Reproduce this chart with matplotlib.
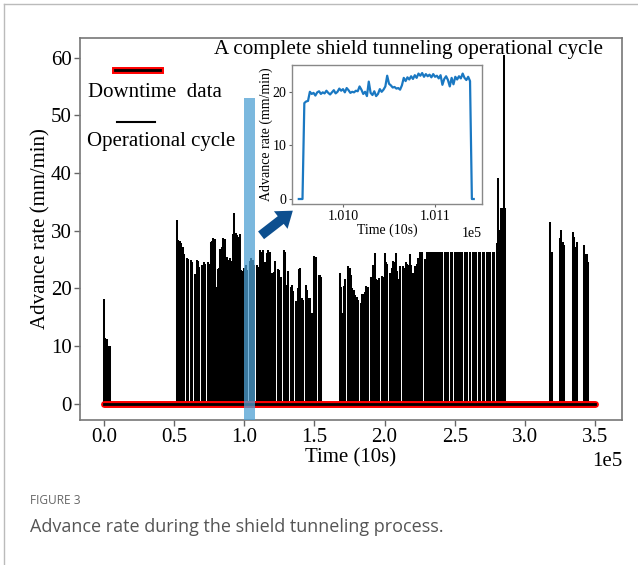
import numpy as np
import matplotlib.pyplot as plt
from matplotlib.patches import FancyArrowPatch
from matplotlib.lines import Line2D

plt.rcParams['font.family'] = ['Liberation Serif', 'DejaVu Serif']

# Advance rate per cycle (mm/min); time unit is 10 s, peaks sampled every 1000 units
step = 1000
start_b1, rate_b1 = 0, [18.1, 11.4, 11.2, 10.0, 10.0]
start_b2, rate_b2 = 52000, [
    31.8, 28.4, 28.2, 27.8, 27.2, 26.0, 0, 25.3, 25.1, 0,
    24.9, 24.6, 0, 22.5, 24.9, 24.7, 23.8, 0, 24.0, 24.5,
    24.3, 0, 24.6, 24.2, 28.0, 28.2, 28.7, 28.5, 20.3, 23.4,
    23.6, 26.9, 27.2, 28.7, 28.6, 0, 25.5, 25.0, 25.3, 24.8,
    29.5, 33.0, 29.6, 29.2, 29.0, 29.5, 23.2, 23.0, 23.5, 24.0,
    23.2, 0, 24.8, 25.3, 25.0, 24.0, 0, 24.0, 23.8, 26.6,
    26.4, 26.6, 0, 24.6, 26.1, 26.6, 26.3, 0, 22.6, 22.8,
    24.7, 0, 23.4, 23.2, 22.0, 0, 26.6, 26.3, 20.6, 23.0,
    0, 20.3, 20.6, 19.5, 0, 17.8, 20.0, 23.4, 23.5, 18.3,
    18.0, 0, 20.6, 19.7, 18.3, 18.3, 15.7, 0, 25.6, 25.5,
    0, 22.3, 22.3, 22.0]
start_b3, rate_b3 = 168000, [
    22.6, 20.3, 15.8, 20.5, 21.7, 0, 23.9, 23.5, 22.3, 20.0,
    19.7, 18.9, 18.5, 18.0, 0, 17.5, 19.1, 19.0, 19.3, 20.5,
    20.3, 0, 21.9, 21.6, 24.0, 26.2, 21.7, 21.5, 21.8, 0,
    22.2, 22.0, 26.2, 24.5, 24.3, 0, 22.7, 23.5, 24.7, 24.5,
    26.2, 23.0, 21.7, 23.9, 0, 23.9, 23.6, 24.5, 24.3, 24.0,
    25.9, 24.0, 22.7, 0, 23.9, 24.2, 25.3, 26.3, 26.3, 26.3,
    0, 25.1, 26.3, 26.3, 26.3, 0, 26.3, 26.3, 26.3, 26.3,
    0, 26.3, 26.3, 26.3, 0, 26.3, 26.3, 26.3, 0, 26.3,
    26.3, 0, 26.3, 26.3, 26.3, 0, 26.3, 26.3, 0, 26.3,
    26.3, 26.3, 0, 26.3, 0, 26.3, 26.3, 26.3, 0, 26.3,
    26.3, 0, 26.3, 26.3, 0, 26.3, 26.3, 26.3, 0, 26.3,
    26.3]
start_b4, rate_b4 = 280000, [27.8, 39.1, 30.1, 33.9, 33.9, 60.5, 34.0]
start_b5, rate_b5 = 318000, [31.5, 26.4]
start_b6, rate_b6 = 325000, [28.7, 30.1, 28.1, 27.5]
start_b7, rate_b7 = 334000, [29.7, 29.0, 27.2, 28.1]
start_b8, rate_b8 = 342000, [27.5, 26.0, 26.0, 24.6]

downtime_span = [0, 350000]
highlight_span = [100000, 107600]
highlight_top = 53

# one complete cycle, sampled every 2 units
inset_start, inset_step = 100952, 2
inset_rate = [
    0, 0, 0, 17.9, 18.2, 18.3, 20.0, 19.6, 19.8, 19.3,
    19.9, 20.1, 19.6, 19.9, 19.7, 20.2, 19.8, 19.5, 19.9, 20.3,
    19.7, 20.0, 20.6, 20.2, 20.5, 19.9, 20.7, 20.3, 19.8, 20.0,
    19.9, 20.2, 20.1, 21.0, 20.4, 19.6, 20.0, 19.2, 21.9, 19.8,
    19.4, 20.1, 19.2, 19.6, 20.5, 20.0, 20.4, 21.0, 23.0, 21.5,
    21.2, 20.8, 20.9, 20.6, 20.7, 20.4, 21.2, 22.6, 22.0, 22.7,
    22.3, 22.9, 22.4, 23.1, 22.6, 23.4, 23.0, 23.5, 22.8, 23.3,
    22.9, 23.2, 22.7, 23.3, 22.8, 23.0, 22.5, 23.1, 21.3, 22.4,
    22.9, 22.2, 21.0, 22.6, 21.4, 22.8, 22.3, 22.9, 22.5, 23.4,
    22.6, 22.2, 22.8, 22.0, 0, 0]

blocks = [(start_b1, rate_b1), (start_b2, rate_b2), (start_b3, rate_b3),
          (start_b4, rate_b4), (start_b5, rate_b5), (start_b6, rate_b6),
          (start_b7, rate_b7), (start_b8, rate_b8)]

fig = plt.figure(figsize=(6.38, 5.65), dpi=100)
ax = fig.add_axes([80 / 638, 1 - 420 / 565, 542 / 638, 382 / 565])

for start, rate in blocks:
    rate = np.array(rate)
    t = start + step * np.arange(len(rate))
    ax.vlines(t, 0, rate, colors='black', lw=1.45, zorder=2)

ax.plot(downtime_span, [0, 0], color='red', lw=5, solid_capstyle='round', zorder=3)
ax.plot(downtime_span, [0, 0], color='black', lw=2, zorder=4)

ax.set_xlim(-17100, 369200)
ax.set_ylim(-2.8, 63.4)
y0, y1 = ax.get_ylim()
ax.axvspan(*highlight_span, ymin=0, ymax=(highlight_top - y0) / (y1 - y0),
           color=(0.31, 0.63, 0.83), alpha=0.75, lw=0, zorder=5)

ax.set_xticks(np.arange(0, 350001, 50000))
ax.set_yticks([0, 10, 20, 30, 40, 50, 60])
ax.ticklabel_format(axis='x', style='sci', scilimits=(0, 0))
ax.xaxis.get_offset_text().set_fontsize(15)
ax.tick_params(direction='out', length=4, width=1, color='#666666',
               labelsize=15, pad=2)
for s in ax.spines.values():
    s.set_color('#777777')
    s.set_linewidth(1.2)
ax.set_xlabel('Time (10s)', fontsize=15, labelpad=1)
ax.set_ylabel('Advance rate (mm/min)', fontsize=15, labelpad=0.5)

# legend drawn by hand: handle above label
ax.plot([0.0646, 0.1476], [0.916, 0.916], transform=ax.transAxes,
        color='red', lw=5, zorder=6)
ax.plot([0.0646, 0.1476], [0.916, 0.916], transform=ax.transAxes,
        color='black', lw=2, zorder=7)
ax.text(0.0148, 0.8586, 'Downtime  data', transform=ax.transAxes,
        fontsize=15, va='center', ha='left')
ax.plot([0.0683, 0.1384], [0.780, 0.780], transform=ax.transAxes,
        color='black', lw=1.5, zorder=6)
ax.text(0.0130, 0.730, 'Operational cycle', transform=ax.transAxes,
        fontsize=15, va='center', ha='left')

ax.text(0.247, 0.9686, 'A complete shield tunneling operational cycle',
        transform=ax.transAxes, fontsize=15.2, va='center', ha='left')

arrow = FancyArrowPatch((0.330, 0.479), (0.3967, 0.5524), transform=ax.transAxes,
                        arrowstyle='simple,head_length=11,head_width=16,tail_width=7',
                        mutation_scale=1, color='#0d4f8f', lw=0, zorder=8)
ax.add_patch(arrow)

# inset with the single cycle
ax_in = fig.add_axes([292 / 638, 1 - 204 / 565, 190 / 638, 139 / 565])
t_in = inset_start + inset_step * np.arange(len(inset_rate))
ax_in.plot(t_in, inset_rate, color='#1a78c2', lw=1.6)
ax_in.set_xlim(100944.6, 101151)
ax_in.set_ylim(-0.93, 25.0)
ax_in.set_xticks([101000, 101100])
ax_in.set_yticks([0, 10, 20])
ax_in.ticklabel_format(axis='x', style='sci', scilimits=(0, 0), useOffset=False)
ax_in.xaxis.get_offset_text().set_fontsize(10)
ax_in.tick_params(direction='out', length=2.5, width=0.8, color='#666666',
                  labelsize=10, pad=1.5)
for s in ax_in.spines.values():
    s.set_color('#888888')
    s.set_linewidth(1.0)
ax_in.set_xlabel('Time (10s)', fontsize=10, labelpad=1)
ax_in.set_ylabel('Advance rate (mm/min)', fontsize=10, labelpad=0)

# page frame and caption
fig.add_artist(Line2D([4 / 638, 1], [1 - 4 / 565, 1 - 4 / 565],
                      transform=fig.transFigure, color='#bbbbbb', lw=1))
fig.add_artist(Line2D([4 / 638, 4 / 638], [0, 1 - 4 / 565],
                      transform=fig.transFigure, color='#bbbbbb', lw=1))
fig.text(30 / 638, 1 - 500 / 565, 'FIGURE 3', family='Open Sans', fontsize=8.6,
         color='#666666', weight='normal', va='center', ha='left')
fig.text(30 / 638, 1 - 527 / 565, 'Advance rate during the shield tunneling process.',
         family='Open Sans', fontsize=13.0, color='#555555', weight='normal',
         va='center', ha='left')

fig.savefig('out.png', dpi=100)
